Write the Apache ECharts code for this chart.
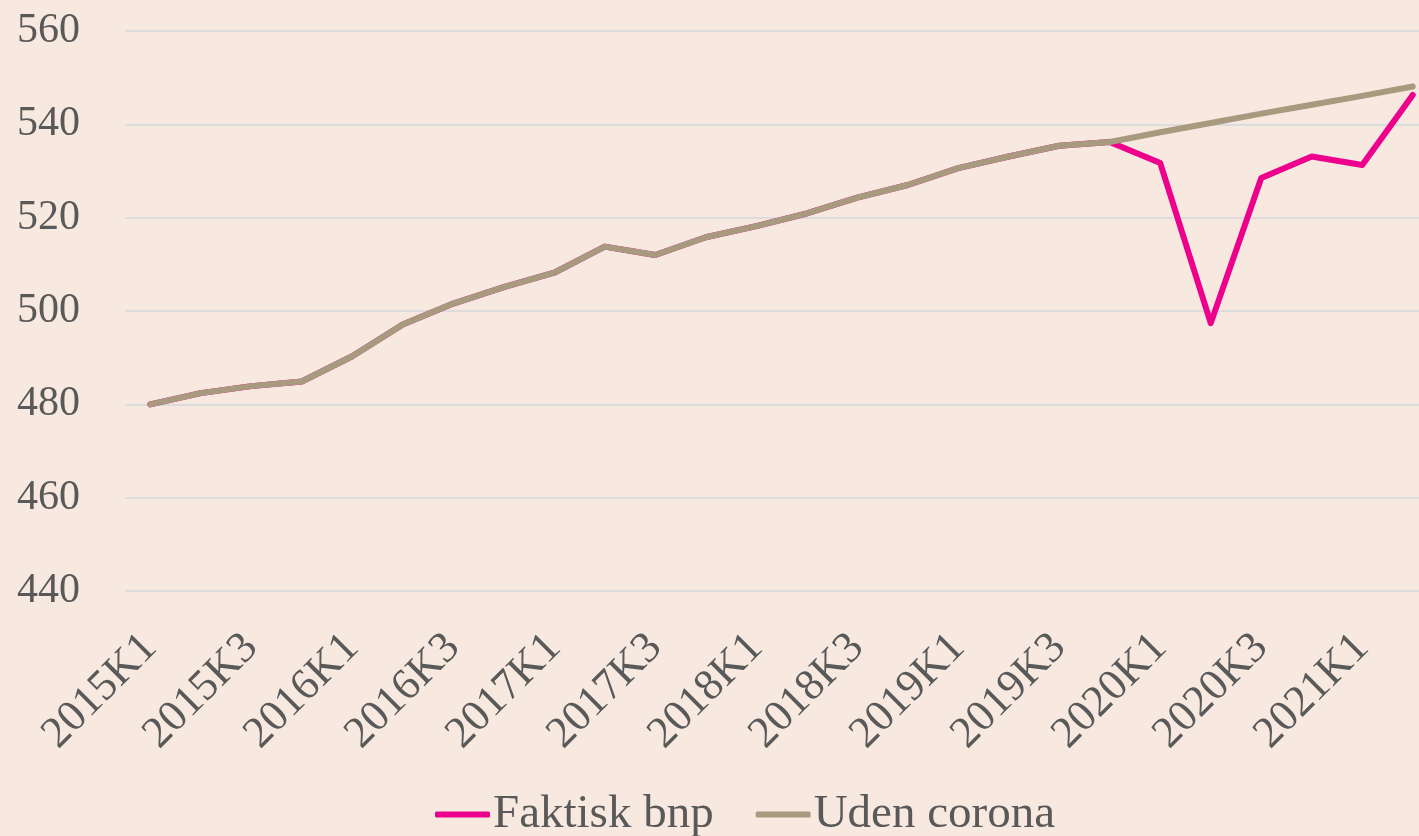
<!DOCTYPE html>
<html>
<head>
<meta charset="utf-8">
<title>BNP</title>
<script src="https://cdn.jsdelivr.net/npm/echarts@6/dist/echarts.min.js"></script>
<style>
  html, body { margin: 0; padding: 0; background: #f7e9df; }
  #chart { width: 1419px; height: 836px; }
</style>
</head>
<body>
<div id="chart"></div>
<script>
var quarters = ['2015K1', '2015K2', '2015K3', '2015K4', '2016K1', '2016K2', '2016K3', '2016K4',
  '2017K1', '2017K2', '2017K3', '2017K4', '2018K1', '2018K2', '2018K3', '2018K4',
  '2019K1', '2019K2', '2019K3', '2019K4', '2020K1', '2020K2', '2020K3', '2020K4',
  '2021K1', '2021K2'];

// faktisk bnp
var faktisk = [480.0, 482.4, 483.9, 484.9, 490.3, 497.1, 501.6, 505.1,
  508.2, 513.8, 512.0, 515.8, 518.2, 520.9, 524.3, 527.0,
  530.6, 533.1, 535.4, 536.2, 531.7, 497.4, 528.5, 533.1,
  531.3, 546.3];

// uden corona
var udenCorona = [480.0, 482.4, 483.9, 484.9, 490.3, 497.1, 501.6, 505.1,
  508.2, 513.8, 512.0, 515.8, 518.2, 520.9, 524.3, 527.0,
  530.6, 533.1, 535.4, 536.2, 538.3, 540.3, 542.3, 544.2,
  546.1, 548.1];

var yTicks = [440, 460, 480, 500, 520, 540, 560];

var font = 'Liberation Serif';
var txt = '#595959';

var chart = echarts.init(document.getElementById('chart'));
chart.setOption({
  backgroundColor: '#f7e9df',
  animation: false,
  textStyle: { fontFamily: font },
  // plot runs past the right edge, like the cropped original
  grid: { left: 125, width: 1313, top: 31, bottom: 245, outerBoundsMode: 'none', containLabel: false },
  legend: {
    top: 786,
    left: 430,
    itemWidth: 55,
    itemHeight: 6,
    itemGap: 42,
    icon: 'roundRect',
    textStyle: { fontFamily: font, fontSize: 47, color: txt, padding: [0, 0, 0, -2] },
    data: ['Faktisk bnp', 'Uden corona']
  },
  xAxis: {
    type: 'category',
    data: quarters,
    boundaryGap: true,
    axisLine: { show: false },
    axisTick: { show: false },
    axisLabel: {
      interval: 1,
      rotate: 45,
      margin: 50,
      fontFamily: font,
      fontSize: 44,
      color: txt
    }
  },
  yAxis: {
    type: 'value',
    min: yTicks[0],
    max: yTicks[yTicks.length - 1],
    interval: 20,
    axisLine: { show: false },
    axisTick: { show: false },
    splitLine: { lineStyle: { color: '#dcdcdc', width: 2 } },
    axisLabel: { margin: 45, fontFamily: font, fontSize: 42, color: txt }
  },
  series: [
    {
      name: 'Faktisk bnp',
      type: 'line',
      data: faktisk,
      symbol: 'none',
      color: '#ec008c',
      lineStyle: { width: 6, color: '#ec008c', cap: 'round', join: 'round' }
    },
    {
      name: 'Uden corona',
      type: 'line',
      data: udenCorona,
      symbol: 'none',
      color: '#a79a7f',
      lineStyle: { width: 6, color: '#a79a7f', cap: 'round', join: 'round' }
    }
  ]
});
</script>
</body>
</html>
